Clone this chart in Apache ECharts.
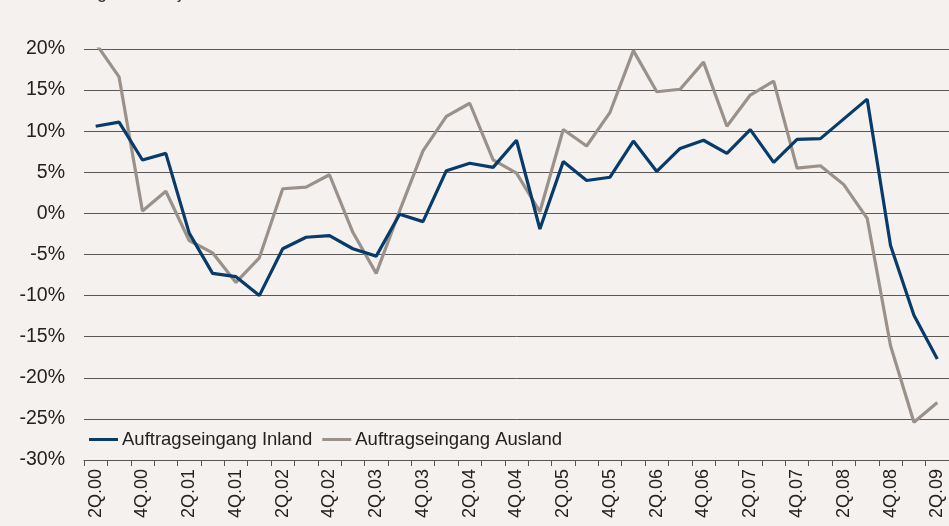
<!DOCTYPE html>
<html>
<head>
<meta charset="utf-8">
<script src="https://cdn.jsdelivr.net/npm/echarts@6/dist/echarts.min.js"></script>
<style>
html,body{margin:0;padding:0;background:#f4f1ee;}
#chart{width:949px;height:526px;}
</style>
</head>
<body>
<div id="chart"></div>
<script>
const categories = ['2Q.00','3Q.00','4Q.00','1Q.01','2Q.01','3Q.01','4Q.01','1Q.02','2Q.02','3Q.02','4Q.02','1Q.03','2Q.03','3Q.03','4Q.03','1Q.04','2Q.04','3Q.04','4Q.04','1Q.05','2Q.05','3Q.05','4Q.05','1Q.06','2Q.06','3Q.06','4Q.06','1Q.07','2Q.07','3Q.07','4Q.07','1Q.08','2Q.08','3Q.08','4Q.08','1Q.09','2Q.09'];
const inland = [10.6,11.1,6.5,7.3,-2.4,-7.3,-7.7,-10.0,-4.3,-2.9,-2.7,-4.3,-5.2,-0.1,-1.0,5.2,6.1,5.6,8.9,-1.9,6.3,4.0,4.4,8.8,5.1,7.9,8.9,7.3,10.2,6.2,9.0,9.1,11.5,13.9,-3.9,-12.4,-17.7];
const ausland = [20.7,16.6,0.3,2.7,-3.3,-4.8,-8.4,-5.4,3.0,3.2,4.7,-2.3,-7.3,0.3,7.6,11.8,13.4,6.5,4.9,0.2,10.2,8.2,12.3,19.8,14.8,15.1,18.4,10.6,14.4,16.1,5.5,5.8,3.5,-0.6,-16.1,-25.4,-23.0];
const seriesNames = ['Auftragseingang Inland','Auftragseingang Ausland'];
const yTicks = {min:-30, max:20, interval:5};
const subtitle = 'Veränderung zum Vorjahr';

const font = '"Liberation Sans", Arial, Helvetica, sans-serif';
const chart = echarts.init(document.getElementById('chart'), null, {renderer:'canvas'});
chart.setOption({
  backgroundColor:'#f4f1ee',
  animation:false,
  textStyle:{fontFamily:font},
  graphic:[{type:'text', left:4, top:-16, style:{text:subtitle, fontSize:18, fontFamily:font, fill:'#333'}}],
  grid:{left:84, right:0, top:49, bottom:66, containLabel:false},
  legend:{
    left:84, top:425, icon:'rect', itemWidth:29, itemHeight:3, itemGap:10,
    textStyle:{fontSize:18.5, color:'#222', fontFamily:font, padding:[0,0,0,-1]},
    data:seriesNames
  },
  xAxis:{
    type:'category', data:categories, boundaryGap:true,
    axisLine:{onZero:false, lineStyle:{color:'#555', width:1}},
    axisTick:{show:true, interval:0, length:6, lineStyle:{color:'#555'}},
    axisLabel:{interval:1, rotate:90, fontSize:18, color:'#222', margin:9, fontFamily:font},
    splitLine:{show:false}
  },
  yAxis:{
    type:'value', min:yTicks.min, max:yTicks.max, interval:yTicks.interval,
    axisLine:{show:false}, axisTick:{show:false},
    axisLabel:{formatter:'{value}%', fontSize:19.5, color:'#222', margin:19, fontFamily:font},
    splitLine:{lineStyle:{color:'#5a5755', width:1}}
  },
  series:[
    {name:seriesNames[0], type:'line', data:inland, symbol:'none', clip:true,
     lineStyle:{color:'#083b69', width:3.2}, itemStyle:{color:'#083b69'}, z:3},
    {name:seriesNames[1], type:'line', data:ausland, symbol:'none', clip:true,
     lineStyle:{color:'#9a918a', width:3.2}, itemStyle:{color:'#9a918a'}, z:2}
  ]
});
</script>
</body>
</html>
